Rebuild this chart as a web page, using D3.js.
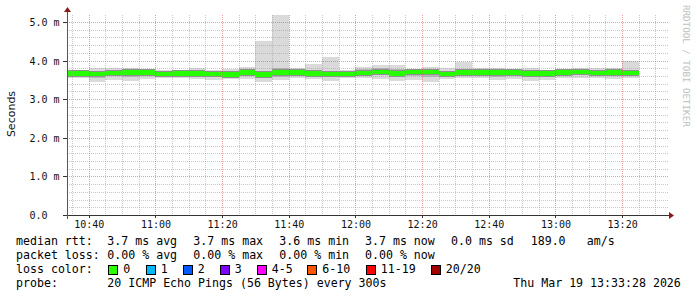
<!DOCTYPE html>
<html><head><meta charset="utf-8">
<script src="https://cdn.jsdelivr.net/npm/d3@7"></script>
<style>
html,body{margin:0;padding:0;background:#fff;}
svg{display:block;}
text{font-family:"DejaVu Sans Mono",monospace;}
</style></head>
<body>
<script>
// ---- data ----
const intervalStarts = ["10:30","10:35","10:40","10:45","10:50","10:55","11:00","11:05","11:10","11:15","11:20","11:25","11:30","11:35","11:40","11:45","11:50","11:55","12:00","12:05","12:10","12:15","12:20","12:25","12:30","12:35","12:40","12:45","12:50","12:55","13:00","13:05","13:10","13:15","13:20"];
const rttMedian = [3.67,3.67,3.65,3.68,3.69,3.69,3.66,3.67,3.67,3.65,3.64,3.69,3.635,3.69,3.69,3.67,3.66,3.66,3.68,3.705,3.665,3.705,3.71,3.66,3.69,3.69,3.69,3.69,3.67,3.67,3.69,3.71,3.68,3.69,3.68];
const rttMin    = [3.56,3.56,3.45,3.50,3.47,3.52,3.55,3.55,3.52,3.50,3.52,3.52,3.45,3.50,3.54,3.52,3.48,3.55,3.55,3.52,3.48,3.50,3.45,3.52,3.55,3.54,3.50,3.52,3.48,3.51,3.54,3.55,3.55,3.52,3.54];
const rttMax    = [3.76,3.76,3.82,3.80,3.82,3.76,3.76,3.76,3.80,3.76,3.78,3.83,4.51,5.18,3.80,3.91,4.09,3.76,3.83,3.89,3.89,3.76,3.83,3.80,3.97,3.80,3.80,3.78,3.80,3.74,3.78,3.82,3.80,3.80,4.00];
const rttLowQ   = [3.62,3.62,3.55,3.60,3.58,3.62,3.61,3.61,3.60,3.57,3.58,3.61,3.54,3.58,3.62,3.59,3.57,3.62,3.62,3.62,3.58,3.60,3.57,3.60,3.62,3.60,3.58,3.60,3.58,3.59,3.61,3.64,3.61,3.62,3.62];
const rttHighQ  = [3.71,3.71,3.72,3.73,3.76,3.73,3.70,3.71,3.72,3.69,3.70,3.74,3.74,3.80,3.73,3.74,3.73,3.70,3.78,3.82,3.78,3.74,3.76,3.72,3.74,3.73,3.72,3.72,3.74,3.71,3.73,3.78,3.76,3.72,3.73];
const xTickLabels = ["10:40","11:00","11:20","11:40","12:00","12:20","12:40","13:00","13:20"];
const yTickValues = [0,1,2,3,4,5];
const yTickLabels = ["0.0","1.0 m","2.0 m","3.0 m","4.0 m","5.0 m"];
const lossLabels = ["0","1","2","3","4-5","6-10","11-19","20/20"];
const lossColors = ["#26ff00","#00b8ff","#0059ff","#7e00ff","#ff00ff","#ff5500","#ff0000","#a10000"];
const statsRtt = ["3.7 ms avg","3.7 ms max","3.6 ms min","3.7 ms now","0.0 ms sd","189.0","am/s"];
const statsLoss = ["0.00 % avg","0.00 % max","0.00 % min","0.00 % now"];
const probeText = "20 ICMP Echo Pings (56 Bytes) every 300s";
const dateText = "Thu Mar 19 13:33:28 2026";

// ---- setup ----
const W=697,H=297;
const svg=d3.select("body").append("svg").attr("width",W).attr("height",H);
const tm = s=>{const [h,m]=s.split(":").map(Number);return new Date(2026,2,19,h,m,0);};
const tStart=new Date(2026,2,19,10,33,28), tEnd=new Date(2026,2,19,13,33,28);
const L=67,R=667,T=15,B=215;
const x=d3.scaleTime().domain([tStart,tEnd]).range([L,R]);
const y=d3.scaleLinear().domain([0,200/38.6]).range([B,T]);

svg.append("defs").append("clipPath").attr("id","pc").append("rect").attr("x",L).attr("y",T).attr("width",R-L).attr("height",B-T);
const data=intervalStarts.map((s,i)=>({t0:tm(s),t1:new Date(+tm(s)+300000),med:rttMedian[i],min:rttMin[i],max:rttMax[i],lq:rttLowQ[i],hq:rttHighQ[i]}));
const g=svg.append("g").attr("clip-path","url(#pc)").attr("shape-rendering","crispEdges");
const bx=sel=>sel.attr("x",d=>x(d.t0)).attr("width",d=>x(d.t1)-x(d.t0));
bx(g.selectAll("rect.a").data(data).join("rect"))
  .attr("y",d=>y(d.max)).attr("height",d=>y(d.min)-y(d.max)).attr("fill","#dadada");
bx(g.selectAll("rect.b").data(data).join("rect"))
  .attr("y",d=>y(d.hq)).attr("height",d=>y(d.lq)-y(d.hq)).attr("fill","#b8b8b8");
bx(g.selectAll("rect.c").data(data).join("rect"))
  .attr("y",d=>y(d.med)-3.2).attr("height",6.4).attr("fill","#909090");
bx(g.selectAll("rect.m").data(data).join("rect"))
  .attr("y",d=>y(d.med)-2.2).attr("height",4.4).attr("fill",lossColors[0]);

// ---- grid ----
const grid=svg.append("g").attr("shape-rendering","crispEdges");
const minorY=d3.range(1,26).map(k=>k*0.2).filter(v=>Math.abs(v-Math.round(v))>1e-6);
grid.selectAll("line.hy").data(minorY).join("line").attr("x1",L).attr("x2",R+2)
  .attr("y1",d=>Math.round(y(d))+0.5).attr("y2",d=>Math.round(y(d))+0.5)
  .attr("stroke","#9a9a9a").attr("stroke-opacity",0.55).attr("stroke-dasharray","1,1");
const minorX=d3.timeMinute.every(5).range(tStart,tEnd).filter(d=>d.getMinutes()%20!==0);
grid.selectAll("line.vx").data(minorX).join("line").attr("y1",T).attr("y2",B)
  .attr("x1",d=>Math.round(x(d))+0.5).attr("x2",d=>Math.round(x(d))+0.5)
  .attr("stroke","#9a9a9a").attr("stroke-opacity",0.55).attr("stroke-dasharray","1,1");
grid.selectAll("line.My").data(yTickValues.filter(v=>v>0)).join("line").attr("x1",L).attr("x2",R+2)
  .attr("y1",d=>Math.round(y(d))+0.5).attr("y2",d=>Math.round(y(d))+0.5)
  .attr("stroke","#de5050").attr("stroke-opacity",0.55).attr("stroke-dasharray","1,1");
grid.selectAll("line.Mx").data(xTickLabels.map(tm)).join("line").attr("y1",T).attr("y2",B)
  .attr("x1",d=>Math.round(x(d))+0.5).attr("x2",d=>Math.round(x(d))+0.5)
  .attr("stroke","#de5050").attr("stroke-opacity",0.55).attr("stroke-dasharray","1,1");

// ---- axes ----
const ax=svg.append("g").attr("shape-rendering","crispEdges");
ax.append("line").attr("x1",63).attr("x2",670).attr("y1",B+0.5).attr("y2",B+0.5).attr("stroke","#333");
ax.append("line").attr("x1",L+0.5).attr("x2",L+0.5).attr("y1",B+4).attr("y2",11).attr("stroke","#555");
svg.append("path").attr("d","M669,212 L674,215.5 L669,219 Z").attr("fill","#8b1a1a");
svg.append("path").attr("d","M64,12 L67.5,7 L71,12 Z").attr("fill","#8b1a1a");
ax.selectAll("line.ty").data(yTickValues).join("line").attr("x1",63).attr("x2",L)
  .attr("y1",d=>Math.round(y(d))+0.5).attr("y2",d=>Math.round(y(d))+0.5).attr("stroke","#333");
ax.selectAll("line.tx").data(xTickLabels.map(tm)).join("line").attr("y1",B).attr("y2",B+3)
  .attr("x1",d=>Math.round(x(d))+0.5).attr("x2",d=>Math.round(x(d))+0.5).attr("stroke","#333");

const xa=svg.append("g").attr("transform",`translate(0,${B})`)
  .call(d3.axisBottom(x).tickValues(xTickLabels.map(tm)).tickFormat((d,i)=>xTickLabels[i]).tickSize(0).tickPadding(0));
xa.select(".domain").remove();
xa.selectAll("text").attr("font-family","DejaVu Sans Mono").attr("font-size","10px").attr("fill","#111").attr("dy",null).attr("y",13);

const ya=svg.append("g").attr("transform",`translate(${L},0)`)
  .call(d3.axisLeft(y).tickValues(yTickValues).tickFormat((d,i)=>yTickLabels[i]).tickSize(0));
ya.select(".domain").remove();
ya.selectAll("text").attr("font-family","DejaVu Sans Mono").attr("font-size","10px").attr("fill","#111")
  .attr("text-anchor","start").attr("x",29.5-L).attr("dy","0.35em");

svg.append("text").attr("transform","translate(15,114) rotate(-90)").attr("text-anchor","middle")
  .style("font-family","'DejaVu Sans'").attr("font-size","11px").attr("fill","#111").text("Seconds");
svg.append("text").attr("transform","translate(683,5) rotate(90)").attr("font-size","9.2px").attr("fill","#c0c0c0")
  .text("RRDTOOL / TOBI OETIKER");

// ---- legend ----
const fs="11.6px";
const lg=svg.append("g").attr("font-size",fs).attr("fill","#000");
const addT=(xx,yy,s)=>lg.append("text").attr("x",xx).attr("y",yy).attr("xml:space","preserve").text(s);
addT(16,245,"median rtt:");
[107.3,193.3,279.3,365,451,530.7,586.7].forEach((xx,i)=>addT(xx,245,statsRtt[i]));
addT(16,259,"packet loss:");
[107.3,193.3,279.3,365].forEach((xx,i)=>addT(xx,259,statsLoss[i]));
addT(16,273,"loss color:");
const boxX=[108,145.5,182.5,219.5,256.5,307,365.5,430.5];
lossLabels.forEach((l,i)=>{
  lg.append("rect").attr("x",boxX[i]+0.5).attr("y",265.5).attr("width",9).attr("height",9)
    .attr("fill",lossColors[i]).attr("stroke","#000").attr("stroke-width",1).attr("shape-rendering","crispEdges");
  addT(boxX[i]+15.3,273,l);
});
addT(16,287,"probe:");
addT(107.3,287,probeText);
addT(513.3,287,dateText);
</script>
</body></html>
